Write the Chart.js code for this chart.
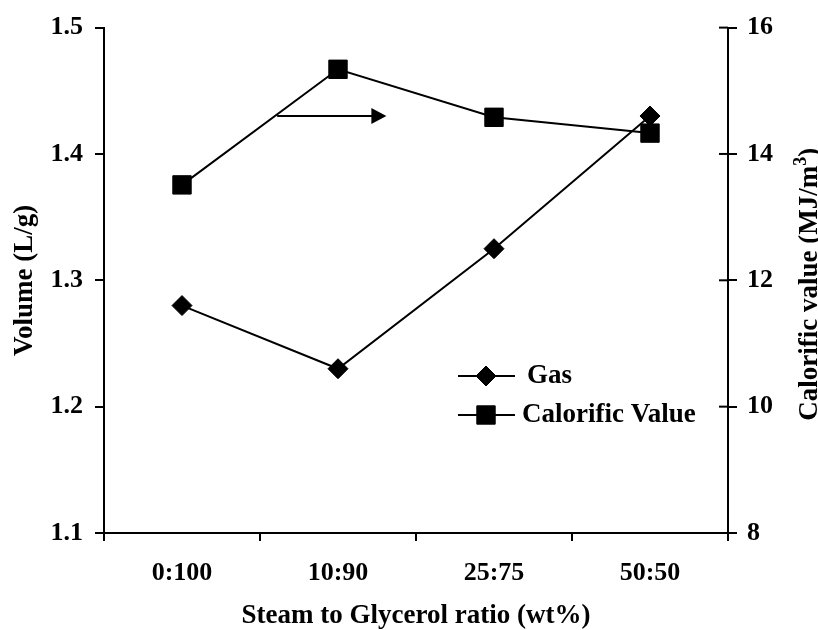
<!DOCTYPE html>
<html>
<head>
<meta charset="utf-8">
<script src="https://cdn.jsdelivr.net/npm/chart.js@4.4.1/dist/chart.umd.min.js"></script>
<style>
  html, body { margin: 0; padding: 0; background: #fff; }
  canvas { display: block; }
</style>
</head>
<body>
<canvas id="grafico" width="818" height="630"></canvas>
<script>
// steam : glycerol ratios
const ratios = ['0:100', '10:90', '25:75', '50:50'];
// gas volume, L/g (left axis)
const gasVolume = [1.28, 1.23, 1.325, 1.43];
// calorific value, MJ/m3 (right axis)
const calorific = [13.51, 15.34, 14.58, 14.33];
const volumeTicks = [1.1, 1.2, 1.3, 1.4, 1.5];
const calorificTicks = [8, 10, 12, 14, 16];

const FONT = '"Liberation Serif", "Times New Roman", serif';
const fuente = { family: FONT, size: 26, weight: 'bold' };
const fuenteTitulo = { family: FONT, size: 27, weight: 'bold', lineHeight: 1 };

// right axis: ticks cross the line, title with superscript, arrow pointing to it
const extras = {
  id: 'extras',
  afterDraw(chart) {
    const ctx = chart.ctx;
    const x = chart.scales.x;
    const yR = chart.scales.y1;
    ctx.save();
    ctx.strokeStyle = '#000';
    ctx.fillStyle = '#000';

    // inner half of the right-hand ticks
    ctx.lineWidth = 2;
    yR.ticks.forEach(t => {
      const py = yR.getPixelForValue(t.value);
      ctx.beginPath();
      ctx.moveTo(yR.left - 9, py);
      ctx.lineTo(yR.left, py);
      ctx.stroke();
    });

    // arrow
    const ay = yR.getPixelForValue(14.6);
    const ax0 = x.getPixelForValue(0.61);
    const ax1 = x.getPixelForValue(1.31);
    ctx.lineWidth = 2;
    ctx.beginPath();
    ctx.moveTo(ax0, ay);
    ctx.lineTo(ax1 - 12, ay);
    ctx.stroke();
    ctx.beginPath();
    ctx.moveTo(ax1, ay);
    ctx.lineTo(ax1 - 15, ay - 8);
    ctx.lineTo(ax1 - 15, ay + 8);
    ctx.closePath();
    ctx.fill();

    // right axis title
    const principal = 'Calorific value (MJ/m';
    const cierre = ')';
    ctx.font = 'bold 27px ' + FONT;
    const w1 = ctx.measureText(principal).width;
    const w3 = ctx.measureText(cierre).width;
    ctx.font = 'bold 18px ' + FONT;
    const w2 = ctx.measureText('3').width;
    const total = w1 + w2 + w3;
    const cy = (chart.chartArea.top + chart.chartArea.bottom) / 2 + 4;
    ctx.translate(817, cy);
    ctx.rotate(-Math.PI / 2);
    ctx.textBaseline = 'alphabetic';
    ctx.textAlign = 'left';
    let px = -total / 2;
    ctx.font = 'bold 27px ' + FONT;
    ctx.fillText(principal, px, 0);
    px += w1;
    ctx.font = 'bold 18px ' + FONT;
    ctx.fillText('3', px, -11);
    px += w2;
    ctx.font = 'bold 27px ' + FONT;
    ctx.fillText(cierre, px, 0);
    ctx.restore();

    // legend
    const filas = [
      { y: 376, estilo: 'rectRot', r: 10, texto: 'Gas', tx: 527 },
      { y: 415, estilo: 'rect', r: 13, texto: 'Calorific Value', tx: 522 }
    ];
    ctx.save();
    filas.forEach(f => {
      ctx.strokeStyle = '#000';
      ctx.lineWidth = 2;
      ctx.beginPath();
      ctx.moveTo(458, f.y);
      ctx.lineTo(515, f.y);
      ctx.stroke();
      ctx.fillStyle = '#000';
      ctx.lineWidth = 1;
      Chart.helpers.drawPoint(ctx, { pointStyle: f.estilo, radius: f.r, borderWidth: 1, rotation: 0 }, 486, f.y);
      ctx.font = 'bold 27px ' + FONT;
      ctx.textBaseline = 'middle';
      ctx.textAlign = 'left';
      ctx.fillText(f.texto, f.tx, f.y);
    });
    ctx.restore();
  }
};

new Chart(document.getElementById('grafico').getContext('2d'), {
  type: 'line',
  data: {
    labels: ratios,
    datasets: [
      {
        label: 'Gas',
        data: gasVolume,
        yAxisID: 'y',
        borderColor: '#000',
        backgroundColor: '#000',
        borderWidth: 2,
        pointStyle: 'rectRot',
        pointRadius: 10,
        pointBorderWidth: 1,
        tension: 0
      },
      {
        label: 'Calorific Value',
        data: calorific,
        yAxisID: 'y1',
        borderColor: '#000',
        backgroundColor: '#000',
        borderWidth: 2,
        pointStyle: 'rect',
        pointRadius: 13,
        pointBorderWidth: 1,
        tension: 0
      }
    ]
  },
  options: {
    responsive: false,
    animation: false,
    layout: { padding: { top: 25 } },
    plugins: {
      legend: { display: false },
      tooltip: { enabled: false }
    },
    scales: {
      x: {
        offset: true,
        grid: { offset: true, drawOnChartArea: false, drawTicks: true, tickLength: 8, color: '#000', lineWidth: 2 },
        border: { display: true, color: '#000', width: 2 },
        ticks: { color: '#000', font: fuente, padding: 17, maxRotation: 0 },
        title: { display: true, text: 'Steam to Glycerol ratio (wt%)', color: '#000', font: fuenteTitulo, padding: 0 },
        afterFit(scale) { scale.height = 97; }
      },
      y: {
        position: 'left',
        min: 1.1,
        max: 1.5,
        afterBuildTicks(scale) { scale.ticks = volumeTicks.map(v => ({ value: v })); },
        grid: { drawOnChartArea: false, tickLength: 9, color: '#000', lineWidth: 2 },
        border: { display: true, color: '#000', width: 2 },
        ticks: { color: '#000', font: fuente, padding: 12, callback: v => v.toFixed(1) },
        title: { display: true, text: 'Volume (L/g)', color: '#000', font: fuenteTitulo, padding: 12 },
        afterFit(scale) { scale.width = 104; }
      },
      y1: {
        position: 'right',
        min: 8,
        max: 16,
        afterBuildTicks(scale) { scale.ticks = calorificTicks.map(v => ({ value: v })); },
        grid: { drawOnChartArea: false, tickLength: 9, color: '#000', lineWidth: 2 },
        border: { display: true, color: '#000', width: 2 },
        ticks: { color: '#000', font: fuente, padding: 10 },
        afterFit(scale) { scale.width = 90; }
      }
    }
  },
  plugins: [extras]
});
</script>
</body>
</html>
